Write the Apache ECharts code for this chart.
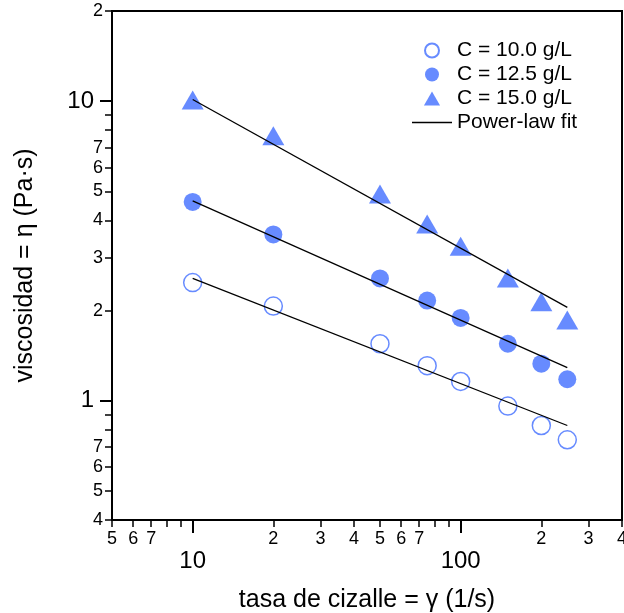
<!DOCTYPE html>
<html><head><meta charset="utf-8">
<script src="https://cdn.jsdelivr.net/npm/echarts@6/dist/echarts.min.js"></script>
<style>html,body{margin:0;padding:0;background:#fff;}#c{width:624px;height:613px;}</style>
</head><body><div id="c"></div>
<script>
// ---- data ----
const shearRate = [10, 20, 50, 75, 100, 150, 200, 250];
const viscC10  = [2.48, 2.07, 1.55, 1.31, 1.16, 0.96, 0.827, 0.741];
const viscC125 = [4.61, 3.59, 2.56, 2.16, 1.89, 1.55, 1.33, 1.18];
const viscC15  = [10.1, 7.67, 4.90, 3.89, 3.28, 2.57, 2.14, 1.86];
const fitX     = [10, 250];
const fitC10   = [2.56, 0.827];
const fitC125  = [4.65, 1.29];
const fitC15   = [10.13, 2.05];
const seriesNames = ['C = 10.0 g/L', 'C = 12.5 g/L', 'C = 15.0 g/L', 'Power-law fit'];
// ---- ticks ----
const xMinorTicks  = [5,6,7,8,9,20,30,40,50,60,70,80,90,200,300,400];
const xMinorLabels = [5,6,7,20,30,40,50,60,70,200,300,400];
const xMajorTicks  = [10,100];
const yMinorTicks  = [0.4,0.5,0.6,0.7,0.8,0.9,2,3,4,5,6,7,8,9,20];
const yMinorLabels = [0.4,0.5,0.6,0.7,2,3,4,5,6,7,20];
const yMajorTicks  = [1,10];
const xRange = [5, 400];
const yRange = [0.4, 20];

const FONT = '"Liberation Sans", Arial, Helvetica, sans-serif';
const BLUE = '#416eff';
const L = Math.log10;
function mant(v){ const e = Math.floor(v + 1e-9); return String(Math.round(Math.pow(10, v) / Math.pow(10, e))); }
function full(v){ return String(Math.round(Math.pow(10, v))); }
function pairs(xs, ys){ return xs.map((x, i) => [x, ys[i]]); }

function tickAxis(range, ticks, labels, len, width, fs, margin, fmt, pos){
  return {
    type: 'value', position: pos, min: L(range[0]), max: L(range[1]),
    axisLine: {show: false, onZero: false},
    splitLine: {show: false},
    axisTick: {show: true, customValues: ticks.map(L), length: len, lineStyle: {color: '#000', width: width}},
    axisLabel: {show: true, customValues: labels.map(L), formatter: fmt, fontSize: fs, margin: margin,
                color: '#000', fontFamily: FONT}
  };
}

const chart = echarts.init(document.getElementById('c'), null, {renderer: 'canvas'});
chart.setOption({
  animation: false,
  backgroundColor: '#fff',
  grid: {left: 112, right: 2, top: 11, bottom: 93, show: true, borderColor: '#000', borderWidth: 2,
         backgroundColor: 'transparent', containLabel: false, outerBoundsMode: 'none'},
  legend: {
    orient: 'vertical', left: 407, top: 35, itemWidth: 40, itemHeight: 14, itemGap: 3,
    symbolKeepAspect: true,
    data: [
      {name: seriesNames[0], icon: 'circle'},
      {name: seriesNames[1], icon: 'circle'},
      {name: seriesNames[2], icon: 'path://M7.5,0L15,13H0Z'},
      {name: seriesNames[3], icon: 'path://M0,0H40V1.3H0Z'}
    ],
    textStyle: {fontSize: 21, color: '#000', fontFamily: FONT}
  },
  xAxis: [
    {type: 'log', logBase: 10, min: xRange[0], max: xRange[1], position: 'bottom',
     name: 'tasa de cizalle = γ (1/s)', nameLocation: 'middle', nameGap: 68,
     nameTextStyle: {fontSize: 25, color: '#000', fontFamily: FONT},
     axisLine: {show: true, onZero: false, lineStyle: {color: '#000', width: 2}},
     axisTick: {show: false}, axisLabel: {show: false}, splitLine: {show: false}, minorTick: {show: false}},
    tickAxis(xRange, xMinorTicks, xMinorLabels, 7, 1.5, 18, 10, mant, 'bottom'),
    tickAxis(xRange, xMajorTicks, xMajorTicks, 13, 2, 24, 29, full, 'bottom')
  ],
  yAxis: [
    {type: 'log', logBase: 10, min: yRange[0], max: yRange[1], position: 'left',
     name: 'viscosidad = η (Pa·s)', nameLocation: 'middle', nameGap: 74, nameRotate: 90,
     nameTextStyle: {fontSize: 25, color: '#000', fontFamily: FONT},
     axisLine: {show: true, onZero: false, lineStyle: {color: '#000', width: 2}},
     axisTick: {show: false}, axisLabel: {show: false}, splitLine: {show: false}, minorTick: {show: false}},
    tickAxis(yRange, yMinorTicks, yMinorLabels, 7, 1.5, 18, 9, mant, 'left'),
    tickAxis(yRange, yMajorTicks, yMajorTicks, 12, 2, 24, 18, full, 'left')
  ],
  series: [
    {name: seriesNames[0], type: 'scatter', xAxisIndex: 0, yAxisIndex: 0, z: 2,
     symbol: 'circle', symbolSize: 18, data: pairs(shearRate, viscC10),
     itemStyle: {color: '#fff', borderColor: BLUE, borderWidth: 1.5}},
    {name: seriesNames[1], type: 'scatter', xAxisIndex: 0, yAxisIndex: 0, z: 2,
     symbol: 'circle', symbolSize: 18, data: pairs(shearRate, viscC125),
     itemStyle: {color: BLUE}},
    {name: seriesNames[2], type: 'scatter', xAxisIndex: 0, yAxisIndex: 0, z: 2,
     symbol: 'triangle', symbolSize: [22, 19], data: pairs(shearRate, viscC15),
     itemStyle: {color: BLUE}},
    {name: seriesNames[3], type: 'line', xAxisIndex: 0, yAxisIndex: 0, z: 3, color: '#000',
     symbol: 'none', data: pairs(fitX, fitC10), lineStyle: {color: '#000', width: 1.3}},
    {name: seriesNames[3], type: 'line', xAxisIndex: 0, yAxisIndex: 0, z: 3, color: '#000',
     symbol: 'none', data: pairs(fitX, fitC125), lineStyle: {color: '#000', width: 1.3}},
    {name: seriesNames[3], type: 'line', xAxisIndex: 0, yAxisIndex: 0, z: 3, color: '#000',
     symbol: 'none', data: pairs(fitX, fitC15), lineStyle: {color: '#000', width: 1.3}}
  ]
});
</script>
</body></html>
